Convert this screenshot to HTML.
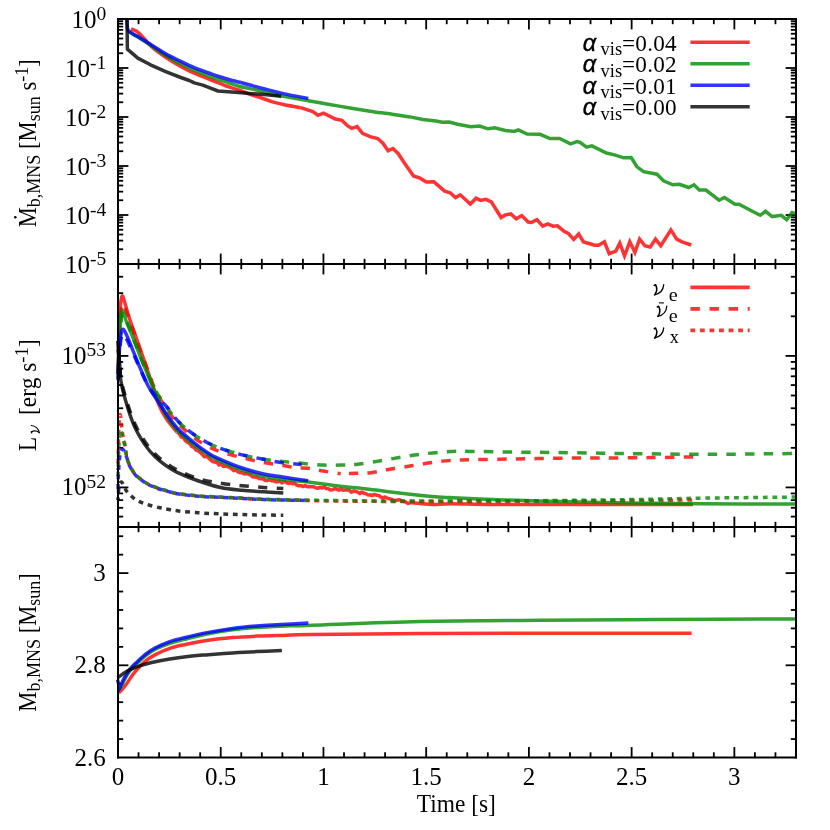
<!DOCTYPE html>
<html lang="en"><head><meta charset="utf-8"><title>MNS evolution</title>
<style>
html,body{margin:0;padding:0;background:#fff;}
body{width:830px;height:830px;overflow:hidden;}
svg{display:block;}
</style></head><body>
<svg width="830" height="830" viewBox="0 0 830 830" font-family="Liberation Serif, serif" font-size="25.0" fill="#000">
<rect x="0" y="0" width="830" height="830" fill="#fff"/>
<defs>
<clipPath id="c1"><rect x="115.8" y="19.0" width="681.2" height="245.0"/></clipPath>
<clipPath id="c2"><rect x="115.8" y="264.0" width="681.2" height="263.0"/></clipPath>
<clipPath id="c3"><rect x="115.8" y="527.0" width="681.2" height="230.5"/></clipPath>
</defs>
<g>
<line x1="138.55" y1="19.00" x2="138.55" y2="24.20" stroke="#000" stroke-width="1.8"/>
<line x1="138.55" y1="258.80" x2="138.55" y2="269.20" stroke="#000" stroke-width="1.8"/>
<line x1="138.55" y1="521.80" x2="138.55" y2="532.20" stroke="#000" stroke-width="1.8"/>
<line x1="138.55" y1="752.30" x2="138.55" y2="757.50" stroke="#000" stroke-width="1.8"/>
<line x1="159.09" y1="19.00" x2="159.09" y2="24.20" stroke="#000" stroke-width="1.8"/>
<line x1="159.09" y1="258.80" x2="159.09" y2="269.20" stroke="#000" stroke-width="1.8"/>
<line x1="159.09" y1="521.80" x2="159.09" y2="532.20" stroke="#000" stroke-width="1.8"/>
<line x1="159.09" y1="752.30" x2="159.09" y2="757.50" stroke="#000" stroke-width="1.8"/>
<line x1="179.64" y1="19.00" x2="179.64" y2="24.20" stroke="#000" stroke-width="1.8"/>
<line x1="179.64" y1="258.80" x2="179.64" y2="269.20" stroke="#000" stroke-width="1.8"/>
<line x1="179.64" y1="521.80" x2="179.64" y2="532.20" stroke="#000" stroke-width="1.8"/>
<line x1="179.64" y1="752.30" x2="179.64" y2="757.50" stroke="#000" stroke-width="1.8"/>
<line x1="200.18" y1="19.00" x2="200.18" y2="24.20" stroke="#000" stroke-width="1.8"/>
<line x1="200.18" y1="258.80" x2="200.18" y2="269.20" stroke="#000" stroke-width="1.8"/>
<line x1="200.18" y1="521.80" x2="200.18" y2="532.20" stroke="#000" stroke-width="1.8"/>
<line x1="200.18" y1="752.30" x2="200.18" y2="757.50" stroke="#000" stroke-width="1.8"/>
<line x1="220.73" y1="19.00" x2="220.73" y2="29.40" stroke="#000" stroke-width="1.8"/>
<line x1="220.73" y1="253.60" x2="220.73" y2="274.40" stroke="#000" stroke-width="1.8"/>
<line x1="220.73" y1="516.60" x2="220.73" y2="537.40" stroke="#000" stroke-width="1.8"/>
<line x1="220.73" y1="747.10" x2="220.73" y2="757.50" stroke="#000" stroke-width="1.8"/>
<line x1="241.27" y1="19.00" x2="241.27" y2="24.20" stroke="#000" stroke-width="1.8"/>
<line x1="241.27" y1="258.80" x2="241.27" y2="269.20" stroke="#000" stroke-width="1.8"/>
<line x1="241.27" y1="521.80" x2="241.27" y2="532.20" stroke="#000" stroke-width="1.8"/>
<line x1="241.27" y1="752.30" x2="241.27" y2="757.50" stroke="#000" stroke-width="1.8"/>
<line x1="261.82" y1="19.00" x2="261.82" y2="24.20" stroke="#000" stroke-width="1.8"/>
<line x1="261.82" y1="258.80" x2="261.82" y2="269.20" stroke="#000" stroke-width="1.8"/>
<line x1="261.82" y1="521.80" x2="261.82" y2="532.20" stroke="#000" stroke-width="1.8"/>
<line x1="261.82" y1="752.30" x2="261.82" y2="757.50" stroke="#000" stroke-width="1.8"/>
<line x1="282.36" y1="19.00" x2="282.36" y2="24.20" stroke="#000" stroke-width="1.8"/>
<line x1="282.36" y1="258.80" x2="282.36" y2="269.20" stroke="#000" stroke-width="1.8"/>
<line x1="282.36" y1="521.80" x2="282.36" y2="532.20" stroke="#000" stroke-width="1.8"/>
<line x1="282.36" y1="752.30" x2="282.36" y2="757.50" stroke="#000" stroke-width="1.8"/>
<line x1="302.91" y1="19.00" x2="302.91" y2="24.20" stroke="#000" stroke-width="1.8"/>
<line x1="302.91" y1="258.80" x2="302.91" y2="269.20" stroke="#000" stroke-width="1.8"/>
<line x1="302.91" y1="521.80" x2="302.91" y2="532.20" stroke="#000" stroke-width="1.8"/>
<line x1="302.91" y1="752.30" x2="302.91" y2="757.50" stroke="#000" stroke-width="1.8"/>
<line x1="323.45" y1="19.00" x2="323.45" y2="29.40" stroke="#000" stroke-width="1.8"/>
<line x1="323.45" y1="253.60" x2="323.45" y2="274.40" stroke="#000" stroke-width="1.8"/>
<line x1="323.45" y1="516.60" x2="323.45" y2="537.40" stroke="#000" stroke-width="1.8"/>
<line x1="323.45" y1="747.10" x2="323.45" y2="757.50" stroke="#000" stroke-width="1.8"/>
<line x1="344.00" y1="19.00" x2="344.00" y2="24.20" stroke="#000" stroke-width="1.8"/>
<line x1="344.00" y1="258.80" x2="344.00" y2="269.20" stroke="#000" stroke-width="1.8"/>
<line x1="344.00" y1="521.80" x2="344.00" y2="532.20" stroke="#000" stroke-width="1.8"/>
<line x1="344.00" y1="752.30" x2="344.00" y2="757.50" stroke="#000" stroke-width="1.8"/>
<line x1="364.55" y1="19.00" x2="364.55" y2="24.20" stroke="#000" stroke-width="1.8"/>
<line x1="364.55" y1="258.80" x2="364.55" y2="269.20" stroke="#000" stroke-width="1.8"/>
<line x1="364.55" y1="521.80" x2="364.55" y2="532.20" stroke="#000" stroke-width="1.8"/>
<line x1="364.55" y1="752.30" x2="364.55" y2="757.50" stroke="#000" stroke-width="1.8"/>
<line x1="385.09" y1="19.00" x2="385.09" y2="24.20" stroke="#000" stroke-width="1.8"/>
<line x1="385.09" y1="258.80" x2="385.09" y2="269.20" stroke="#000" stroke-width="1.8"/>
<line x1="385.09" y1="521.80" x2="385.09" y2="532.20" stroke="#000" stroke-width="1.8"/>
<line x1="385.09" y1="752.30" x2="385.09" y2="757.50" stroke="#000" stroke-width="1.8"/>
<line x1="405.64" y1="19.00" x2="405.64" y2="24.20" stroke="#000" stroke-width="1.8"/>
<line x1="405.64" y1="258.80" x2="405.64" y2="269.20" stroke="#000" stroke-width="1.8"/>
<line x1="405.64" y1="521.80" x2="405.64" y2="532.20" stroke="#000" stroke-width="1.8"/>
<line x1="405.64" y1="752.30" x2="405.64" y2="757.50" stroke="#000" stroke-width="1.8"/>
<line x1="426.18" y1="19.00" x2="426.18" y2="29.40" stroke="#000" stroke-width="1.8"/>
<line x1="426.18" y1="253.60" x2="426.18" y2="274.40" stroke="#000" stroke-width="1.8"/>
<line x1="426.18" y1="516.60" x2="426.18" y2="537.40" stroke="#000" stroke-width="1.8"/>
<line x1="426.18" y1="747.10" x2="426.18" y2="757.50" stroke="#000" stroke-width="1.8"/>
<line x1="446.73" y1="19.00" x2="446.73" y2="24.20" stroke="#000" stroke-width="1.8"/>
<line x1="446.73" y1="258.80" x2="446.73" y2="269.20" stroke="#000" stroke-width="1.8"/>
<line x1="446.73" y1="521.80" x2="446.73" y2="532.20" stroke="#000" stroke-width="1.8"/>
<line x1="446.73" y1="752.30" x2="446.73" y2="757.50" stroke="#000" stroke-width="1.8"/>
<line x1="467.27" y1="19.00" x2="467.27" y2="24.20" stroke="#000" stroke-width="1.8"/>
<line x1="467.27" y1="258.80" x2="467.27" y2="269.20" stroke="#000" stroke-width="1.8"/>
<line x1="467.27" y1="521.80" x2="467.27" y2="532.20" stroke="#000" stroke-width="1.8"/>
<line x1="467.27" y1="752.30" x2="467.27" y2="757.50" stroke="#000" stroke-width="1.8"/>
<line x1="487.82" y1="19.00" x2="487.82" y2="24.20" stroke="#000" stroke-width="1.8"/>
<line x1="487.82" y1="258.80" x2="487.82" y2="269.20" stroke="#000" stroke-width="1.8"/>
<line x1="487.82" y1="521.80" x2="487.82" y2="532.20" stroke="#000" stroke-width="1.8"/>
<line x1="487.82" y1="752.30" x2="487.82" y2="757.50" stroke="#000" stroke-width="1.8"/>
<line x1="508.36" y1="19.00" x2="508.36" y2="24.20" stroke="#000" stroke-width="1.8"/>
<line x1="508.36" y1="258.80" x2="508.36" y2="269.20" stroke="#000" stroke-width="1.8"/>
<line x1="508.36" y1="521.80" x2="508.36" y2="532.20" stroke="#000" stroke-width="1.8"/>
<line x1="508.36" y1="752.30" x2="508.36" y2="757.50" stroke="#000" stroke-width="1.8"/>
<line x1="528.91" y1="19.00" x2="528.91" y2="29.40" stroke="#000" stroke-width="1.8"/>
<line x1="528.91" y1="253.60" x2="528.91" y2="274.40" stroke="#000" stroke-width="1.8"/>
<line x1="528.91" y1="516.60" x2="528.91" y2="537.40" stroke="#000" stroke-width="1.8"/>
<line x1="528.91" y1="747.10" x2="528.91" y2="757.50" stroke="#000" stroke-width="1.8"/>
<line x1="549.45" y1="19.00" x2="549.45" y2="24.20" stroke="#000" stroke-width="1.8"/>
<line x1="549.45" y1="258.80" x2="549.45" y2="269.20" stroke="#000" stroke-width="1.8"/>
<line x1="549.45" y1="521.80" x2="549.45" y2="532.20" stroke="#000" stroke-width="1.8"/>
<line x1="549.45" y1="752.30" x2="549.45" y2="757.50" stroke="#000" stroke-width="1.8"/>
<line x1="570.00" y1="19.00" x2="570.00" y2="24.20" stroke="#000" stroke-width="1.8"/>
<line x1="570.00" y1="258.80" x2="570.00" y2="269.20" stroke="#000" stroke-width="1.8"/>
<line x1="570.00" y1="521.80" x2="570.00" y2="532.20" stroke="#000" stroke-width="1.8"/>
<line x1="570.00" y1="752.30" x2="570.00" y2="757.50" stroke="#000" stroke-width="1.8"/>
<line x1="590.55" y1="19.00" x2="590.55" y2="24.20" stroke="#000" stroke-width="1.8"/>
<line x1="590.55" y1="258.80" x2="590.55" y2="269.20" stroke="#000" stroke-width="1.8"/>
<line x1="590.55" y1="521.80" x2="590.55" y2="532.20" stroke="#000" stroke-width="1.8"/>
<line x1="590.55" y1="752.30" x2="590.55" y2="757.50" stroke="#000" stroke-width="1.8"/>
<line x1="611.09" y1="19.00" x2="611.09" y2="24.20" stroke="#000" stroke-width="1.8"/>
<line x1="611.09" y1="258.80" x2="611.09" y2="269.20" stroke="#000" stroke-width="1.8"/>
<line x1="611.09" y1="521.80" x2="611.09" y2="532.20" stroke="#000" stroke-width="1.8"/>
<line x1="611.09" y1="752.30" x2="611.09" y2="757.50" stroke="#000" stroke-width="1.8"/>
<line x1="631.64" y1="19.00" x2="631.64" y2="29.40" stroke="#000" stroke-width="1.8"/>
<line x1="631.64" y1="253.60" x2="631.64" y2="274.40" stroke="#000" stroke-width="1.8"/>
<line x1="631.64" y1="516.60" x2="631.64" y2="537.40" stroke="#000" stroke-width="1.8"/>
<line x1="631.64" y1="747.10" x2="631.64" y2="757.50" stroke="#000" stroke-width="1.8"/>
<line x1="652.18" y1="19.00" x2="652.18" y2="24.20" stroke="#000" stroke-width="1.8"/>
<line x1="652.18" y1="258.80" x2="652.18" y2="269.20" stroke="#000" stroke-width="1.8"/>
<line x1="652.18" y1="521.80" x2="652.18" y2="532.20" stroke="#000" stroke-width="1.8"/>
<line x1="652.18" y1="752.30" x2="652.18" y2="757.50" stroke="#000" stroke-width="1.8"/>
<line x1="672.73" y1="19.00" x2="672.73" y2="24.20" stroke="#000" stroke-width="1.8"/>
<line x1="672.73" y1="258.80" x2="672.73" y2="269.20" stroke="#000" stroke-width="1.8"/>
<line x1="672.73" y1="521.80" x2="672.73" y2="532.20" stroke="#000" stroke-width="1.8"/>
<line x1="672.73" y1="752.30" x2="672.73" y2="757.50" stroke="#000" stroke-width="1.8"/>
<line x1="693.27" y1="19.00" x2="693.27" y2="24.20" stroke="#000" stroke-width="1.8"/>
<line x1="693.27" y1="258.80" x2="693.27" y2="269.20" stroke="#000" stroke-width="1.8"/>
<line x1="693.27" y1="521.80" x2="693.27" y2="532.20" stroke="#000" stroke-width="1.8"/>
<line x1="693.27" y1="752.30" x2="693.27" y2="757.50" stroke="#000" stroke-width="1.8"/>
<line x1="713.82" y1="19.00" x2="713.82" y2="24.20" stroke="#000" stroke-width="1.8"/>
<line x1="713.82" y1="258.80" x2="713.82" y2="269.20" stroke="#000" stroke-width="1.8"/>
<line x1="713.82" y1="521.80" x2="713.82" y2="532.20" stroke="#000" stroke-width="1.8"/>
<line x1="713.82" y1="752.30" x2="713.82" y2="757.50" stroke="#000" stroke-width="1.8"/>
<line x1="734.36" y1="19.00" x2="734.36" y2="29.40" stroke="#000" stroke-width="1.8"/>
<line x1="734.36" y1="253.60" x2="734.36" y2="274.40" stroke="#000" stroke-width="1.8"/>
<line x1="734.36" y1="516.60" x2="734.36" y2="537.40" stroke="#000" stroke-width="1.8"/>
<line x1="734.36" y1="747.10" x2="734.36" y2="757.50" stroke="#000" stroke-width="1.8"/>
<line x1="754.91" y1="19.00" x2="754.91" y2="24.20" stroke="#000" stroke-width="1.8"/>
<line x1="754.91" y1="258.80" x2="754.91" y2="269.20" stroke="#000" stroke-width="1.8"/>
<line x1="754.91" y1="521.80" x2="754.91" y2="532.20" stroke="#000" stroke-width="1.8"/>
<line x1="754.91" y1="752.30" x2="754.91" y2="757.50" stroke="#000" stroke-width="1.8"/>
<line x1="775.45" y1="19.00" x2="775.45" y2="24.20" stroke="#000" stroke-width="1.8"/>
<line x1="775.45" y1="258.80" x2="775.45" y2="269.20" stroke="#000" stroke-width="1.8"/>
<line x1="775.45" y1="521.80" x2="775.45" y2="532.20" stroke="#000" stroke-width="1.8"/>
<line x1="775.45" y1="752.30" x2="775.45" y2="757.50" stroke="#000" stroke-width="1.8"/>
<line x1="118.00" y1="53.25" x2="123.20" y2="53.25" stroke="#000" stroke-width="1.8"/>
<line x1="790.80" y1="53.25" x2="796.00" y2="53.25" stroke="#000" stroke-width="1.8"/>
<line x1="118.00" y1="44.62" x2="123.20" y2="44.62" stroke="#000" stroke-width="1.8"/>
<line x1="790.80" y1="44.62" x2="796.00" y2="44.62" stroke="#000" stroke-width="1.8"/>
<line x1="118.00" y1="38.50" x2="123.20" y2="38.50" stroke="#000" stroke-width="1.8"/>
<line x1="790.80" y1="38.50" x2="796.00" y2="38.50" stroke="#000" stroke-width="1.8"/>
<line x1="118.00" y1="33.75" x2="123.20" y2="33.75" stroke="#000" stroke-width="1.8"/>
<line x1="790.80" y1="33.75" x2="796.00" y2="33.75" stroke="#000" stroke-width="1.8"/>
<line x1="118.00" y1="29.87" x2="123.20" y2="29.87" stroke="#000" stroke-width="1.8"/>
<line x1="790.80" y1="29.87" x2="796.00" y2="29.87" stroke="#000" stroke-width="1.8"/>
<line x1="118.00" y1="26.59" x2="123.20" y2="26.59" stroke="#000" stroke-width="1.8"/>
<line x1="790.80" y1="26.59" x2="796.00" y2="26.59" stroke="#000" stroke-width="1.8"/>
<line x1="118.00" y1="23.75" x2="123.20" y2="23.75" stroke="#000" stroke-width="1.8"/>
<line x1="790.80" y1="23.75" x2="796.00" y2="23.75" stroke="#000" stroke-width="1.8"/>
<line x1="118.00" y1="21.24" x2="123.20" y2="21.24" stroke="#000" stroke-width="1.8"/>
<line x1="790.80" y1="21.24" x2="796.00" y2="21.24" stroke="#000" stroke-width="1.8"/>
<line x1="118.00" y1="68.00" x2="128.40" y2="68.00" stroke="#000" stroke-width="1.8"/>
<line x1="785.60" y1="68.00" x2="796.00" y2="68.00" stroke="#000" stroke-width="1.8"/>
<line x1="118.00" y1="102.25" x2="123.20" y2="102.25" stroke="#000" stroke-width="1.8"/>
<line x1="790.80" y1="102.25" x2="796.00" y2="102.25" stroke="#000" stroke-width="1.8"/>
<line x1="118.00" y1="93.62" x2="123.20" y2="93.62" stroke="#000" stroke-width="1.8"/>
<line x1="790.80" y1="93.62" x2="796.00" y2="93.62" stroke="#000" stroke-width="1.8"/>
<line x1="118.00" y1="87.50" x2="123.20" y2="87.50" stroke="#000" stroke-width="1.8"/>
<line x1="790.80" y1="87.50" x2="796.00" y2="87.50" stroke="#000" stroke-width="1.8"/>
<line x1="118.00" y1="82.75" x2="123.20" y2="82.75" stroke="#000" stroke-width="1.8"/>
<line x1="790.80" y1="82.75" x2="796.00" y2="82.75" stroke="#000" stroke-width="1.8"/>
<line x1="118.00" y1="78.87" x2="123.20" y2="78.87" stroke="#000" stroke-width="1.8"/>
<line x1="790.80" y1="78.87" x2="796.00" y2="78.87" stroke="#000" stroke-width="1.8"/>
<line x1="118.00" y1="75.59" x2="123.20" y2="75.59" stroke="#000" stroke-width="1.8"/>
<line x1="790.80" y1="75.59" x2="796.00" y2="75.59" stroke="#000" stroke-width="1.8"/>
<line x1="118.00" y1="72.75" x2="123.20" y2="72.75" stroke="#000" stroke-width="1.8"/>
<line x1="790.80" y1="72.75" x2="796.00" y2="72.75" stroke="#000" stroke-width="1.8"/>
<line x1="118.00" y1="70.24" x2="123.20" y2="70.24" stroke="#000" stroke-width="1.8"/>
<line x1="790.80" y1="70.24" x2="796.00" y2="70.24" stroke="#000" stroke-width="1.8"/>
<line x1="118.00" y1="117.00" x2="128.40" y2="117.00" stroke="#000" stroke-width="1.8"/>
<line x1="785.60" y1="117.00" x2="796.00" y2="117.00" stroke="#000" stroke-width="1.8"/>
<line x1="118.00" y1="151.25" x2="123.20" y2="151.25" stroke="#000" stroke-width="1.8"/>
<line x1="790.80" y1="151.25" x2="796.00" y2="151.25" stroke="#000" stroke-width="1.8"/>
<line x1="118.00" y1="142.62" x2="123.20" y2="142.62" stroke="#000" stroke-width="1.8"/>
<line x1="790.80" y1="142.62" x2="796.00" y2="142.62" stroke="#000" stroke-width="1.8"/>
<line x1="118.00" y1="136.50" x2="123.20" y2="136.50" stroke="#000" stroke-width="1.8"/>
<line x1="790.80" y1="136.50" x2="796.00" y2="136.50" stroke="#000" stroke-width="1.8"/>
<line x1="118.00" y1="131.75" x2="123.20" y2="131.75" stroke="#000" stroke-width="1.8"/>
<line x1="790.80" y1="131.75" x2="796.00" y2="131.75" stroke="#000" stroke-width="1.8"/>
<line x1="118.00" y1="127.87" x2="123.20" y2="127.87" stroke="#000" stroke-width="1.8"/>
<line x1="790.80" y1="127.87" x2="796.00" y2="127.87" stroke="#000" stroke-width="1.8"/>
<line x1="118.00" y1="124.59" x2="123.20" y2="124.59" stroke="#000" stroke-width="1.8"/>
<line x1="790.80" y1="124.59" x2="796.00" y2="124.59" stroke="#000" stroke-width="1.8"/>
<line x1="118.00" y1="121.75" x2="123.20" y2="121.75" stroke="#000" stroke-width="1.8"/>
<line x1="790.80" y1="121.75" x2="796.00" y2="121.75" stroke="#000" stroke-width="1.8"/>
<line x1="118.00" y1="119.24" x2="123.20" y2="119.24" stroke="#000" stroke-width="1.8"/>
<line x1="790.80" y1="119.24" x2="796.00" y2="119.24" stroke="#000" stroke-width="1.8"/>
<line x1="118.00" y1="166.00" x2="128.40" y2="166.00" stroke="#000" stroke-width="1.8"/>
<line x1="785.60" y1="166.00" x2="796.00" y2="166.00" stroke="#000" stroke-width="1.8"/>
<line x1="118.00" y1="200.25" x2="123.20" y2="200.25" stroke="#000" stroke-width="1.8"/>
<line x1="790.80" y1="200.25" x2="796.00" y2="200.25" stroke="#000" stroke-width="1.8"/>
<line x1="118.00" y1="191.62" x2="123.20" y2="191.62" stroke="#000" stroke-width="1.8"/>
<line x1="790.80" y1="191.62" x2="796.00" y2="191.62" stroke="#000" stroke-width="1.8"/>
<line x1="118.00" y1="185.50" x2="123.20" y2="185.50" stroke="#000" stroke-width="1.8"/>
<line x1="790.80" y1="185.50" x2="796.00" y2="185.50" stroke="#000" stroke-width="1.8"/>
<line x1="118.00" y1="180.75" x2="123.20" y2="180.75" stroke="#000" stroke-width="1.8"/>
<line x1="790.80" y1="180.75" x2="796.00" y2="180.75" stroke="#000" stroke-width="1.8"/>
<line x1="118.00" y1="176.87" x2="123.20" y2="176.87" stroke="#000" stroke-width="1.8"/>
<line x1="790.80" y1="176.87" x2="796.00" y2="176.87" stroke="#000" stroke-width="1.8"/>
<line x1="118.00" y1="173.59" x2="123.20" y2="173.59" stroke="#000" stroke-width="1.8"/>
<line x1="790.80" y1="173.59" x2="796.00" y2="173.59" stroke="#000" stroke-width="1.8"/>
<line x1="118.00" y1="170.75" x2="123.20" y2="170.75" stroke="#000" stroke-width="1.8"/>
<line x1="790.80" y1="170.75" x2="796.00" y2="170.75" stroke="#000" stroke-width="1.8"/>
<line x1="118.00" y1="168.24" x2="123.20" y2="168.24" stroke="#000" stroke-width="1.8"/>
<line x1="790.80" y1="168.24" x2="796.00" y2="168.24" stroke="#000" stroke-width="1.8"/>
<line x1="118.00" y1="215.00" x2="128.40" y2="215.00" stroke="#000" stroke-width="1.8"/>
<line x1="785.60" y1="215.00" x2="796.00" y2="215.00" stroke="#000" stroke-width="1.8"/>
<line x1="118.00" y1="249.25" x2="123.20" y2="249.25" stroke="#000" stroke-width="1.8"/>
<line x1="790.80" y1="249.25" x2="796.00" y2="249.25" stroke="#000" stroke-width="1.8"/>
<line x1="118.00" y1="240.62" x2="123.20" y2="240.62" stroke="#000" stroke-width="1.8"/>
<line x1="790.80" y1="240.62" x2="796.00" y2="240.62" stroke="#000" stroke-width="1.8"/>
<line x1="118.00" y1="234.50" x2="123.20" y2="234.50" stroke="#000" stroke-width="1.8"/>
<line x1="790.80" y1="234.50" x2="796.00" y2="234.50" stroke="#000" stroke-width="1.8"/>
<line x1="118.00" y1="229.75" x2="123.20" y2="229.75" stroke="#000" stroke-width="1.8"/>
<line x1="790.80" y1="229.75" x2="796.00" y2="229.75" stroke="#000" stroke-width="1.8"/>
<line x1="118.00" y1="225.87" x2="123.20" y2="225.87" stroke="#000" stroke-width="1.8"/>
<line x1="790.80" y1="225.87" x2="796.00" y2="225.87" stroke="#000" stroke-width="1.8"/>
<line x1="118.00" y1="222.59" x2="123.20" y2="222.59" stroke="#000" stroke-width="1.8"/>
<line x1="790.80" y1="222.59" x2="796.00" y2="222.59" stroke="#000" stroke-width="1.8"/>
<line x1="118.00" y1="219.75" x2="123.20" y2="219.75" stroke="#000" stroke-width="1.8"/>
<line x1="790.80" y1="219.75" x2="796.00" y2="219.75" stroke="#000" stroke-width="1.8"/>
<line x1="118.00" y1="217.24" x2="123.20" y2="217.24" stroke="#000" stroke-width="1.8"/>
<line x1="790.80" y1="217.24" x2="796.00" y2="217.24" stroke="#000" stroke-width="1.8"/>
<line x1="118.00" y1="355.91" x2="128.40" y2="355.91" stroke="#000" stroke-width="1.8"/>
<line x1="785.60" y1="355.91" x2="796.00" y2="355.91" stroke="#000" stroke-width="1.8"/>
<line x1="118.00" y1="487.41" x2="128.40" y2="487.41" stroke="#000" stroke-width="1.8"/>
<line x1="785.60" y1="487.41" x2="796.00" y2="487.41" stroke="#000" stroke-width="1.8"/>
<line x1="118.00" y1="316.33" x2="123.20" y2="316.33" stroke="#000" stroke-width="1.8"/>
<line x1="790.80" y1="316.33" x2="796.00" y2="316.33" stroke="#000" stroke-width="1.8"/>
<line x1="118.00" y1="293.17" x2="123.20" y2="293.17" stroke="#000" stroke-width="1.8"/>
<line x1="790.80" y1="293.17" x2="796.00" y2="293.17" stroke="#000" stroke-width="1.8"/>
<line x1="118.00" y1="276.74" x2="123.20" y2="276.74" stroke="#000" stroke-width="1.8"/>
<line x1="790.80" y1="276.74" x2="796.00" y2="276.74" stroke="#000" stroke-width="1.8"/>
<line x1="118.00" y1="447.83" x2="123.20" y2="447.83" stroke="#000" stroke-width="1.8"/>
<line x1="790.80" y1="447.83" x2="796.00" y2="447.83" stroke="#000" stroke-width="1.8"/>
<line x1="118.00" y1="424.67" x2="123.20" y2="424.67" stroke="#000" stroke-width="1.8"/>
<line x1="790.80" y1="424.67" x2="796.00" y2="424.67" stroke="#000" stroke-width="1.8"/>
<line x1="118.00" y1="408.24" x2="123.20" y2="408.24" stroke="#000" stroke-width="1.8"/>
<line x1="790.80" y1="408.24" x2="796.00" y2="408.24" stroke="#000" stroke-width="1.8"/>
<line x1="118.00" y1="395.50" x2="123.20" y2="395.50" stroke="#000" stroke-width="1.8"/>
<line x1="790.80" y1="395.50" x2="796.00" y2="395.50" stroke="#000" stroke-width="1.8"/>
<line x1="118.00" y1="385.09" x2="123.20" y2="385.09" stroke="#000" stroke-width="1.8"/>
<line x1="790.80" y1="385.09" x2="796.00" y2="385.09" stroke="#000" stroke-width="1.8"/>
<line x1="118.00" y1="376.28" x2="123.20" y2="376.28" stroke="#000" stroke-width="1.8"/>
<line x1="790.80" y1="376.28" x2="796.00" y2="376.28" stroke="#000" stroke-width="1.8"/>
<line x1="118.00" y1="368.66" x2="123.20" y2="368.66" stroke="#000" stroke-width="1.8"/>
<line x1="790.80" y1="368.66" x2="796.00" y2="368.66" stroke="#000" stroke-width="1.8"/>
<line x1="118.00" y1="361.93" x2="123.20" y2="361.93" stroke="#000" stroke-width="1.8"/>
<line x1="790.80" y1="361.93" x2="796.00" y2="361.93" stroke="#000" stroke-width="1.8"/>
<line x1="118.00" y1="516.59" x2="123.20" y2="516.59" stroke="#000" stroke-width="1.8"/>
<line x1="790.80" y1="516.59" x2="796.00" y2="516.59" stroke="#000" stroke-width="1.8"/>
<line x1="118.00" y1="507.78" x2="123.20" y2="507.78" stroke="#000" stroke-width="1.8"/>
<line x1="790.80" y1="507.78" x2="796.00" y2="507.78" stroke="#000" stroke-width="1.8"/>
<line x1="118.00" y1="500.16" x2="123.20" y2="500.16" stroke="#000" stroke-width="1.8"/>
<line x1="790.80" y1="500.16" x2="796.00" y2="500.16" stroke="#000" stroke-width="1.8"/>
<line x1="118.00" y1="493.43" x2="123.20" y2="493.43" stroke="#000" stroke-width="1.8"/>
<line x1="790.80" y1="493.43" x2="796.00" y2="493.43" stroke="#000" stroke-width="1.8"/>
<line x1="118.00" y1="739.06" x2="123.20" y2="739.06" stroke="#000" stroke-width="1.8"/>
<line x1="790.80" y1="739.06" x2="796.00" y2="739.06" stroke="#000" stroke-width="1.8"/>
<line x1="118.00" y1="720.62" x2="123.20" y2="720.62" stroke="#000" stroke-width="1.8"/>
<line x1="790.80" y1="720.62" x2="796.00" y2="720.62" stroke="#000" stroke-width="1.8"/>
<line x1="118.00" y1="702.18" x2="123.20" y2="702.18" stroke="#000" stroke-width="1.8"/>
<line x1="790.80" y1="702.18" x2="796.00" y2="702.18" stroke="#000" stroke-width="1.8"/>
<line x1="118.00" y1="683.74" x2="123.20" y2="683.74" stroke="#000" stroke-width="1.8"/>
<line x1="790.80" y1="683.74" x2="796.00" y2="683.74" stroke="#000" stroke-width="1.8"/>
<line x1="118.00" y1="665.30" x2="128.40" y2="665.30" stroke="#000" stroke-width="1.8"/>
<line x1="785.60" y1="665.30" x2="796.00" y2="665.30" stroke="#000" stroke-width="1.8"/>
<line x1="118.00" y1="646.86" x2="123.20" y2="646.86" stroke="#000" stroke-width="1.8"/>
<line x1="790.80" y1="646.86" x2="796.00" y2="646.86" stroke="#000" stroke-width="1.8"/>
<line x1="118.00" y1="628.42" x2="123.20" y2="628.42" stroke="#000" stroke-width="1.8"/>
<line x1="790.80" y1="628.42" x2="796.00" y2="628.42" stroke="#000" stroke-width="1.8"/>
<line x1="118.00" y1="609.98" x2="123.20" y2="609.98" stroke="#000" stroke-width="1.8"/>
<line x1="790.80" y1="609.98" x2="796.00" y2="609.98" stroke="#000" stroke-width="1.8"/>
<line x1="118.00" y1="591.54" x2="123.20" y2="591.54" stroke="#000" stroke-width="1.8"/>
<line x1="790.80" y1="591.54" x2="796.00" y2="591.54" stroke="#000" stroke-width="1.8"/>
<line x1="118.00" y1="573.10" x2="128.40" y2="573.10" stroke="#000" stroke-width="1.8"/>
<line x1="785.60" y1="573.10" x2="796.00" y2="573.10" stroke="#000" stroke-width="1.8"/>
<line x1="118.00" y1="554.66" x2="123.20" y2="554.66" stroke="#000" stroke-width="1.8"/>
<line x1="790.80" y1="554.66" x2="796.00" y2="554.66" stroke="#000" stroke-width="1.8"/>
<line x1="118.00" y1="536.22" x2="123.20" y2="536.22" stroke="#000" stroke-width="1.8"/>
<line x1="790.80" y1="536.22" x2="796.00" y2="536.22" stroke="#000" stroke-width="1.8"/>
</g>
<g clip-path="url(#c1)">
<path d="M131.0,29.0C131.3,29.1 131.7,29.0 133.0,29.6C134.3,30.2 136.7,31.1 138.7,32.8C140.7,34.4 142.8,37.1 145.0,39.5C147.2,41.9 148.8,44.1 152.2,47.1C155.6,50.1 160.9,54.0 165.7,57.2C170.5,60.4 176.0,63.8 180.8,66.5C185.6,69.2 189.2,71.0 194.3,73.2C199.4,75.5 205.6,77.8 211.2,80.0C216.8,82.2 223.2,85.0 228.0,86.7C232.8,88.4 236.2,89.1 240.0,90.4C243.8,91.7 247.2,93.4 250.8,94.7C254.4,96.0 258.1,96.8 261.7,98.0C265.3,99.2 268.9,100.8 272.5,101.9C276.1,103.0 278.7,103.5 283.4,104.5C288.1,105.5 297.8,107.2 300.7,107.7" fill="none" stroke="#ff0000" stroke-opacity="0.80" stroke-width="3.5" stroke-linejoin="round"/>
<path d="M300.7,107.7L312.7,111.6L318.0,115.3L323.5,113.1L335.4,119.0L341.9,120.3L347.4,125.7L351.7,128.3L357.1,126.6L362.5,133.3L370.1,136.6L377.7,138.5L383.1,143.5L388.1,150.7L392.9,148.5L398.3,153.7L403.7,161.9L413.5,176.0L420.0,178.2L426.3,182.0L433.9,181.8L444.7,191.1L450.1,192.8L455.5,197.6L460.3,194.8L470.3,204.1L476.1,198.2L480.5,200.4L485.9,199.3L491.3,201.9L501.1,217.5L505.4,214.9L510.8,213.9L516.3,218.8L521.7,215.6L528.2,222.1L531.4,222.5L536.9,219.7L542.7,226.2L547.7,224.0L553.1,226.2L557.5,225.8L564.0,231.2L568.3,233.4L573.7,239.4L578.7,234.0L583.5,242.0L590.0,243.8L594.6,245.2L598.6,245.2L604.4,241.8L609.2,253.7L615.8,251.1L619.8,243.1L624.5,255.8L629.8,241.8L634.9,252.4L639.6,239.1L644.9,245.8L650.2,247.1L655.5,239.1L660.8,245.8L670.9,229.9L676.7,239.1L682.0,241.8L691.3,245.0" fill="none" stroke="#ff0000" stroke-opacity="0.80" stroke-width="3.5" stroke-linejoin="miter"/>
<path d="M128.6,31.6C129.2,32.0 130.3,32.8 132.0,33.8C133.7,34.8 135.3,35.5 138.7,37.6C142.1,39.7 147.7,43.4 152.2,46.4C156.7,49.4 160.9,52.6 165.7,55.5C170.5,58.4 176.0,61.3 180.8,63.8C185.6,66.2 189.2,68.0 194.3,70.2C199.4,72.4 205.6,74.8 211.2,76.8C216.8,78.8 223.2,80.9 228.0,82.5C232.8,84.1 236.3,85.5 240.0,86.5C243.7,87.5 246.4,87.8 250.0,88.6C253.6,89.4 256.1,90.1 261.7,91.4C267.3,92.7 275.6,94.8 283.4,96.4C291.2,98.0 301.1,99.5 308.3,100.8C315.5,102.1 320.0,102.8 326.7,104.0C333.4,105.2 341.2,106.5 348.4,107.7C355.6,108.9 362.8,110.1 370.0,111.2C377.2,112.3 385.1,113.2 391.8,114.2C398.5,115.2 407.0,116.5 410.0,116.9" fill="none" stroke="#008a00" stroke-opacity="0.80" stroke-width="3.5" stroke-linejoin="round"/>
<path d="M410.0,116.9L423.0,119.5L436.0,121.0L442.5,122.3L449.0,122.1L457.7,124.3L470.7,126.7L479.4,126.0L488.1,128.8L494.6,127.8L505.4,130.4L514.1,131.4L518.4,129.9L527.1,134.0L540.1,134.3L549.9,138.6L559.6,138.4L570.5,143.8L577.0,141.6L580.0,142.4L586.6,147.2L591.9,145.9L606.5,153.0L614.5,154.9L623.7,157.8L631.2,157.5L637.0,166.8L643.6,171.6L656.9,174.2L663.5,180.8L672.8,184.8L679.4,184.3L688.7,187.5L694.0,184.8L699.3,190.1L705.9,190.1L719.1,200.2L724.4,197.5L735.0,204.2L739.0,204.2L752.3,211.3L760.2,215.3L765.5,211.3L772.2,216.6L781.4,215.3L786.7,219.8L792.0,212.6L797.0,214.0" fill="none" stroke="#008a00" stroke-opacity="0.80" stroke-width="3.5" stroke-linejoin="miter"/>
<path d="M126.6,0.0L126.9,19.0L127.3,27.0C127.5,27.7 127.2,29.5 128.8,31.0C130.4,32.5 133.1,33.7 137.0,36.1C140.9,38.5 147.4,42.4 152.2,45.4C157.0,48.4 160.9,51.2 165.7,53.9C170.5,56.6 176.0,59.1 180.8,61.4C185.6,63.7 189.2,65.6 194.3,67.7C199.4,69.8 205.6,71.9 211.2,73.8C216.8,75.7 223.2,77.8 228.0,79.2C232.8,80.6 236.3,81.3 240.0,82.3C243.7,83.3 246.4,84.0 250.0,85.0C253.6,86.0 256.1,86.8 261.7,88.2C267.3,89.6 275.6,91.9 283.4,93.6C291.2,95.3 304.1,97.6 308.3,98.4" fill="none" stroke="#0000ff" stroke-opacity="0.80" stroke-width="3.5" stroke-linejoin="round"/>
<path d="M126.8,0.0L127.0,19.0L127.4,49.2L137.8,58.1L150.5,64.8L165.7,71.6L180.8,77.5L189.3,80.5L194.3,82.9L202.8,85.1L211.2,88.4L218.0,91.0L228.0,91.8L238.2,92.6L250.0,93.5L261.7,94.3L281.2,96.2" fill="none" stroke="#000000" stroke-opacity="0.80" stroke-width="3.5" stroke-linejoin="round"/>
</g>
<g clip-path="url(#c2)">
<path d="M118.0,374.0C118.2,366.7 118.8,341.5 119.2,330.0C119.6,318.5 120.0,310.7 120.5,305.0C121.0,299.3 121.5,296.8 122.1,296.0C122.7,295.2 123.0,297.1 124.0,300.0C125.0,302.9 126.3,308.3 127.9,313.4C129.5,318.5 131.5,324.4 133.7,330.7C135.9,337.0 138.6,344.5 140.9,351.0C143.2,357.5 145.2,363.7 147.3,369.8C149.4,375.9 151.4,382.0 153.3,387.8C155.2,393.6 156.7,399.4 158.8,404.5C161.0,409.6 163.1,413.9 166.2,418.5C169.2,423.1 175.3,429.9 177.1,432.2" fill="none" stroke="#ff0000" stroke-opacity="0.80" stroke-width="3.5" stroke-linejoin="round"/>
<path d="M177.1,432.2L179.2,433.7L181.3,437.0L183.4,437.7L185.5,440.8L187.6,442.4L189.7,443.6L191.8,446.6L193.9,447.3L196.0,450.0L198.1,450.8L200.2,452.4L202.3,454.6L204.4,456.8L206.5,456.4L208.6,457.8L210.7,459.9L212.8,461.8L214.9,462.0L217.0,462.6L219.1,465.0L221.2,463.7L223.3,466.5L225.4,466.0L227.5,466.6L229.6,467.4L231.7,468.7L233.8,470.7L235.9,470.0L238.0,471.8L240.1,472.7L242.2,472.8L244.3,474.0L246.4,473.5L248.5,474.2L250.6,475.2L252.7,477.0L254.8,477.0L256.9,477.3L259.0,478.5L261.1,478.8L263.2,478.9L265.3,480.5L267.4,480.6L269.5,479.8L271.6,480.7L273.7,480.8L275.8,481.8L277.9,481.7L280.0,480.9L282.1,482.9L284.2,481.2L286.3,482.4L288.4,483.6L290.5,482.6L292.6,483.8L294.7,483.2L296.8,485.1L298.9,485.7L301.0,485.6L303.1,486.6L305.2,485.5L307.3,486.7L309.4,486.6L311.5,486.8L313.6,486.7L315.7,487.8L317.8,488.3L319.9,487.4L322.0,488.0L324.1,486.8L326.2,488.6L328.3,488.8L330.4,489.9L332.5,489.7L334.6,488.7L336.7,489.3L338.8,490.2L340.9,489.0L343.0,490.3L345.1,489.9L347.2,490.1L349.3,490.2L351.4,492.2L353.5,490.9L355.6,491.5L357.7,492.1L359.8,493.6L361.9,492.0L364.0,493.2L366.1,493.7L368.2,494.9L370.3,495.0L372.4,495.5L374.5,494.4L376.6,495.2L378.7,495.4L380.8,497.2L382.9,497.9L385.0,496.9L387.1,498.1L389.2,498.8L391.3,499.2L393.4,500.1L395.5,500.5L397.6,500.0L399.7,499.7L401.8,501.0L403.9,501.3L406.0,502.2L408.1,503.5L410.0,502.6" fill="none" stroke="#ff0000" stroke-opacity="0.80" stroke-width="3.5" stroke-linejoin="round"/>
<path d="M410.0,502.6C413.6,502.9 425.1,504.3 431.8,504.5C438.5,504.7 439.7,503.8 450.0,503.8C460.3,503.8 475.3,504.5 493.4,504.6C511.5,504.7 535.6,504.6 558.4,504.6C581.2,504.6 607.6,504.6 630.0,504.6C652.4,504.6 682.5,504.5 693.0,504.5" fill="none" stroke="#ff0000" stroke-opacity="0.80" stroke-width="3.5" stroke-linejoin="round"/>
<path d="M118.0,380.0C118.2,372.5 118.8,346.3 119.3,335.0C119.8,323.7 120.3,317.2 120.8,312.0C121.3,306.8 121.8,305.0 122.3,304.0C122.8,303.0 123.0,304.0 124.0,306.0C125.0,308.0 126.3,311.5 128.0,316.0C129.7,320.5 131.8,326.9 134.0,333.0C136.2,339.1 138.6,346.2 141.0,352.5C143.4,358.8 145.8,364.8 148.2,371.0C150.6,377.2 152.4,383.8 155.4,390.0C158.4,396.2 162.6,403.1 166.2,408.5C169.8,413.9 173.5,418.5 177.1,422.5C180.7,426.5 184.3,429.4 187.9,432.5C191.5,435.6 195.1,438.6 198.7,441.0C202.3,443.4 206.0,445.4 209.6,447.2C213.2,449.0 215.0,450.0 220.4,451.8C225.8,453.6 234.9,456.0 242.1,457.8C249.3,459.6 257.3,461.3 263.8,462.5C270.3,463.7 275.8,464.1 281.0,465.0C286.2,465.9 290.7,467.1 295.2,467.7C299.7,468.2 303.5,467.7 308.2,468.3C312.9,468.9 318.0,470.2 323.4,471.1C328.8,472.0 337.8,473.3 340.7,473.7" fill="none" stroke="#ff0000" stroke-opacity="0.80" stroke-width="3.5" stroke-linejoin="round" stroke-dasharray="9.4,9.25" stroke-dashoffset="11.4"/>
<path d="M340.7,473.7C343.2,473.6 350.8,473.5 355.9,473.3C360.9,473.1 365.6,473.4 371.0,472.7C376.4,472.0 381.9,470.5 388.4,469.4C394.9,468.3 402.8,467.2 410.0,466.1C417.2,465.0 425.1,463.4 431.8,462.5C438.5,461.6 443.4,461.0 450.0,460.5C456.6,460.0 460.9,459.9 471.7,459.7C482.5,459.4 500.6,459.2 515.0,459.0C529.5,458.8 543.9,458.4 558.4,458.2C572.9,458.0 586.5,458.1 601.8,458.0C617.1,457.9 634.7,457.8 650.0,457.6C665.3,457.4 686.4,457.0 693.7,456.9" fill="none" stroke="#ff0000" stroke-opacity="0.80" stroke-width="3.5" stroke-linejoin="round" stroke-dasharray="9.4,9.25" stroke-dashoffset="10.4"/>
<path d="M118.0,470.0C118.1,464.2 118.4,443.7 118.6,435.0C118.8,426.3 119.2,421.4 119.4,418.0C119.7,414.6 119.8,414.5 120.1,414.5C120.3,414.5 120.7,416.1 120.9,418.0C121.2,419.9 121.2,423.0 121.6,426.0C121.9,429.0 122.4,432.6 123.0,436.0C123.6,439.4 124.6,442.9 125.2,446.3C125.8,449.7 125.9,453.3 126.6,456.4C127.3,459.5 128.2,462.1 129.5,465.0C130.8,467.9 132.7,471.3 134.6,473.7C136.5,476.1 138.9,477.8 141.1,479.5C143.3,481.2 144.8,482.4 147.6,483.9C150.4,485.3 154.0,486.9 157.7,488.2C161.4,489.5 166.8,490.9 170.0,491.8C173.2,492.7 172.3,492.9 177.1,493.6C181.9,494.3 191.5,495.5 198.7,496.1C205.9,496.7 213.2,496.8 220.4,497.2C227.6,497.6 234.9,497.9 242.1,498.3C249.3,498.7 255.5,499.1 263.8,499.4C272.1,499.7 282.1,500.0 292.0,500.2C301.9,500.4 310.9,500.6 323.4,500.8C335.8,501.0 352.3,501.2 366.7,501.3C381.1,501.4 394.4,501.5 410.0,501.5C425.6,501.5 438.9,501.5 460.0,501.5C481.1,501.5 508.4,501.4 536.7,501.3C565.0,501.2 603.8,500.8 630.0,500.6C656.2,500.4 683.1,500.1 693.7,500.0" fill="none" stroke="#ff0000" stroke-opacity="0.80" stroke-width="3.5" stroke-linejoin="round" stroke-dasharray="4.8,4.75" stroke-dashoffset="2.7"/>
<path d="M118.0,374.0C118.2,368.3 118.8,349.3 119.3,340.0C119.8,330.7 120.3,322.8 120.8,318.0C121.3,313.2 121.9,311.9 122.4,311.2C122.9,310.4 123.3,311.7 124.0,313.5C124.7,315.3 124.9,317.7 126.5,322.0C128.1,326.3 131.3,333.4 133.7,339.4C136.1,345.4 138.5,352.2 140.9,358.2C143.3,364.2 146.2,370.9 148.1,375.5C150.0,380.1 150.6,381.4 152.5,385.7C154.4,390.0 157.2,396.5 159.5,401.5C161.8,406.5 163.3,410.8 166.2,415.5C169.1,420.2 173.5,425.9 177.1,430.0C180.7,434.1 184.3,436.7 187.9,439.8C191.5,442.9 195.1,445.7 198.7,448.4C202.3,451.1 206.0,453.6 209.6,455.8C213.2,458.0 215.0,459.0 220.4,461.4C225.8,463.8 234.9,467.6 242.1,470.1C249.3,472.6 257.5,474.9 263.8,476.4C270.1,477.9 272.6,478.3 280.0,479.2C287.4,480.1 301.0,481.2 308.2,482.0C315.4,482.8 317.3,483.1 323.4,483.9C329.5,484.7 337.8,485.9 345.0,486.7C352.2,487.5 359.5,488.1 366.7,488.9C373.9,489.7 381.2,490.8 388.4,491.7C395.6,492.6 402.8,493.5 410.0,494.3C417.2,495.1 425.1,495.9 431.8,496.5C438.5,497.1 439.7,497.1 450.0,497.6C460.3,498.1 478.9,499.1 493.4,499.6C507.8,500.2 522.2,500.5 536.7,500.9C551.2,501.3 564.6,501.6 580.1,502.0C595.6,502.4 610.0,502.8 630.0,503.1C650.0,503.4 672.2,503.6 700.0,503.8C727.8,504.0 780.8,504.1 797.0,504.1" fill="none" stroke="#008a00" stroke-opacity="0.80" stroke-width="3.5" stroke-linejoin="round"/>
<path d="M118.0,380.0C118.2,374.2 118.9,354.7 119.4,345.0C119.9,335.3 120.5,327.2 121.0,322.0C121.5,316.8 122.0,314.9 122.6,314.0C123.2,313.1 123.6,314.8 124.5,316.5C125.4,318.2 126.4,320.1 128.0,324.0C129.6,327.9 131.8,334.3 134.0,340.0C136.2,345.7 138.6,352.2 141.0,358.0C143.4,363.8 145.8,369.6 148.2,375.0C150.6,380.4 152.4,385.2 155.4,390.5C158.4,395.8 162.6,401.5 166.2,406.5C169.8,411.5 173.5,416.6 177.1,420.5C180.7,424.4 184.3,427.1 187.9,430.0C191.5,432.9 195.1,435.5 198.7,437.8C202.3,440.1 206.0,442.0 209.6,443.8C213.2,445.6 215.0,446.5 220.4,448.4C225.8,450.2 234.9,453.1 242.1,454.9C249.3,456.7 257.5,458.2 263.8,459.3C270.1,460.4 273.7,460.5 280.0,461.2C286.3,461.9 294.5,462.6 301.7,463.3C308.9,464.0 316.9,464.8 323.4,465.1C329.9,465.4 335.3,465.2 340.7,465.1C346.1,465.0 349.8,465.0 355.9,464.4C362.0,463.8 370.4,462.3 377.6,461.2C384.8,460.1 392.1,458.7 399.3,457.5C406.5,456.3 413.8,455.1 421.0,454.2C428.2,453.3 436.2,452.5 442.7,452.0C449.2,451.5 455.2,451.3 460.0,451.2C464.8,451.1 462.5,451.2 471.7,451.4C480.9,451.5 500.6,451.9 515.0,452.1C529.5,452.3 543.9,452.3 558.4,452.5C572.9,452.7 589.9,453.0 601.8,453.2C613.7,453.4 612.5,453.4 630.0,453.6C647.5,453.8 680.2,454.3 706.7,454.3C733.2,454.3 774.0,453.7 789.0,453.6C804.0,453.5 795.7,453.6 797.0,453.6" fill="none" stroke="#008a00" stroke-opacity="0.80" stroke-width="3.5" stroke-linejoin="round" stroke-dasharray="9.4,9.25" stroke-dashoffset="16.9"/>
<path d="M118.0,480.0C118.1,475.0 118.4,457.8 118.7,450.0C119.0,442.2 119.5,436.3 119.8,433.0C120.1,429.7 120.5,430.4 120.8,430.4C121.1,430.4 121.4,431.7 121.8,433.0C122.2,434.3 122.4,435.6 123.0,438.0C123.6,440.4 124.6,444.4 125.2,447.5C125.8,450.6 125.9,453.6 126.6,456.5C127.3,459.4 128.2,462.3 129.5,465.2C130.8,468.1 132.7,471.3 134.6,473.7C136.5,476.1 138.9,477.7 141.1,479.4C143.3,481.1 144.8,482.4 147.6,483.8C150.4,485.2 154.0,486.8 157.7,488.1C161.4,489.4 166.8,490.7 170.0,491.6C173.2,492.5 172.3,492.7 177.1,493.4C181.9,494.1 191.5,495.3 198.7,495.9C205.9,496.5 213.2,496.6 220.4,497.0C227.6,497.4 234.9,497.7 242.1,498.1C249.3,498.5 255.5,498.9 263.8,499.2C272.1,499.5 282.1,499.6 292.0,499.8C301.9,500.0 310.9,500.2 323.4,500.4C335.8,500.6 352.3,500.8 366.7,500.9C381.1,501.0 396.1,501.1 410.0,501.1C423.9,501.1 428.9,501.0 450.0,500.9C471.1,500.8 506.7,500.9 536.7,500.7C566.7,500.5 601.7,500.0 630.0,499.6C658.3,499.2 678.9,498.5 706.7,498.1C734.5,497.7 782.0,497.2 797.0,497.0" fill="none" stroke="#008a00" stroke-opacity="0.80" stroke-width="3.5" stroke-linejoin="round" stroke-dasharray="4.8,4.75" stroke-dashoffset="5.8"/>
<path d="M118.0,374.0C118.2,370.0 118.9,356.7 119.4,350.0C119.9,343.3 120.4,337.4 121.0,334.0C121.6,330.6 122.2,329.7 122.8,329.3C123.4,328.9 123.9,330.1 124.8,331.5C125.7,332.9 126.4,334.5 127.9,338.0C129.4,341.5 131.5,347.1 133.7,352.4C135.9,357.7 138.5,364.2 140.9,369.8C143.3,375.4 145.7,381.1 148.1,385.7C150.5,390.3 152.4,392.8 155.4,397.5C158.4,402.2 162.6,408.6 166.2,413.7C169.8,418.8 173.5,423.8 177.1,427.8C180.7,431.8 184.3,434.5 187.9,437.6C191.5,440.7 195.1,443.6 198.7,446.3C202.3,449.0 206.0,451.7 209.6,453.9C213.2,456.1 215.0,456.9 220.4,459.3C225.8,461.7 234.9,465.6 242.1,468.0C249.3,470.4 257.5,472.6 263.8,474.0C270.1,475.4 275.3,475.8 280.0,476.5C284.7,477.2 287.3,477.7 292.0,478.4C296.7,479.1 305.5,480.3 308.2,480.7" fill="none" stroke="#0000ff" stroke-opacity="0.80" stroke-width="3.5" stroke-linejoin="round"/>
<path d="M118.0,380.0C118.2,375.3 119.0,359.0 119.5,352.0C120.0,345.0 120.6,341.0 121.2,338.0C121.8,335.0 122.4,334.3 123.0,334.0C123.6,333.7 124.2,334.7 125.0,336.0C125.8,337.3 126.5,338.8 128.0,342.0C129.5,345.2 131.8,350.2 134.0,355.0C136.2,359.8 138.6,365.8 141.0,371.0C143.4,376.2 145.8,381.8 148.2,386.0C150.6,390.2 152.4,392.6 155.4,396.0C158.4,399.4 162.6,402.1 166.2,406.1C169.8,410.1 173.5,416.2 177.1,420.2C180.7,424.2 184.3,427.1 187.9,430.0C191.5,432.9 195.1,435.3 198.7,437.6C202.3,439.9 206.0,442.0 209.6,443.8C213.2,445.6 215.0,446.5 220.4,448.4C225.8,450.2 234.9,453.1 242.1,454.9C249.3,456.7 257.3,458.0 263.8,459.3C270.3,460.6 274.9,461.6 281.2,462.5C287.5,463.4 298.3,464.2 301.7,464.5" fill="none" stroke="#0000ff" stroke-opacity="0.80" stroke-width="3.5" stroke-linejoin="round" stroke-dasharray="9.4,9.25" stroke-dashoffset="3.5"/>
<path d="M118.0,493.0C118.1,490.0 118.1,480.8 118.4,475.0C118.7,469.2 119.1,462.1 119.6,458.0C120.1,453.9 120.9,451.9 121.5,450.5C122.1,449.1 122.5,449.2 123.0,449.5C123.5,449.8 123.9,450.8 124.5,452.0C125.1,453.2 125.8,454.8 126.6,457.0C127.4,459.2 128.2,462.7 129.5,465.5C130.8,468.3 132.7,471.6 134.6,474.0C136.5,476.4 138.9,478.1 141.1,479.8C143.3,481.5 144.8,482.8 147.6,484.2C150.4,485.6 154.0,487.2 157.7,488.5C161.4,489.8 166.8,491.1 170.0,492.0C173.2,492.9 172.3,493.1 177.1,493.8C181.9,494.5 191.5,495.7 198.7,496.3C205.9,496.9 213.2,497.0 220.4,497.4C227.6,497.8 234.9,498.1 242.1,498.5C249.3,498.9 255.5,499.3 263.8,499.6C272.1,499.9 284.6,500.1 292.0,500.2C299.4,500.3 305.5,500.4 308.2,500.5" fill="none" stroke="#0000ff" stroke-opacity="0.80" stroke-width="3.5" stroke-linejoin="round" stroke-dasharray="4.8,4.75" stroke-dashoffset="5.5"/>
<path d="M117.8,341.0C117.9,342.8 118.2,347.5 118.6,352.0C119.0,356.5 119.7,363.5 120.0,368.2C120.3,372.9 119.9,374.9 120.7,380.0C121.5,385.1 122.8,391.2 125.0,398.6C127.2,406.0 130.4,417.0 133.7,424.6C136.9,432.2 140.9,438.7 144.5,444.1C148.1,449.5 151.8,453.5 155.4,457.1C159.0,460.7 162.6,463.3 166.2,465.8C169.8,468.3 171.7,469.8 177.1,472.3C182.5,474.8 191.5,478.5 198.7,481.0C205.9,483.5 213.2,485.9 220.4,487.5C227.6,489.1 234.9,489.6 242.1,490.3C249.3,491.0 256.9,491.4 263.8,491.8C270.7,492.2 280.1,492.7 283.3,492.9" fill="none" stroke="#000000" stroke-opacity="0.80" stroke-width="3.5" stroke-linejoin="round"/>
<path d="M117.8,345.0C117.9,346.5 118.2,350.2 118.6,354.0C119.0,357.8 119.6,364.0 120.0,368.0C120.4,372.0 119.9,373.3 120.8,378.0C121.7,382.7 123.0,388.7 125.2,396.0C127.4,403.3 130.7,414.4 134.0,422.0C137.3,429.6 141.2,436.1 144.8,441.5C148.4,446.9 152.0,450.9 155.6,454.5C159.2,458.1 162.8,460.7 166.4,463.3C170.0,465.9 171.9,467.4 177.3,470.0C182.7,472.6 191.5,476.6 198.7,478.8C205.9,481.0 213.2,482.0 220.4,483.1C227.6,484.2 234.9,485.0 242.1,485.7C249.3,486.4 256.9,487.0 263.8,487.5C270.7,488.0 280.1,488.4 283.3,488.6" fill="none" stroke="#000000" stroke-opacity="0.80" stroke-width="3.5" stroke-linejoin="round" stroke-dasharray="9.4,9.25" stroke-dashoffset="14.2"/>
<path d="M118.0,500.0C118.1,498.2 118.4,491.8 118.7,489.0C119.0,486.2 119.5,484.5 120.0,483.3C120.5,482.1 121.0,481.7 121.6,482.0C122.2,482.3 122.7,483.5 123.5,485.0C124.3,486.5 124.9,488.9 126.6,491.1C128.3,493.3 131.4,496.4 133.9,498.3C136.4,500.2 139.0,501.4 141.8,502.6C144.6,503.8 147.5,504.6 150.5,505.5C153.5,506.4 157.0,507.1 159.9,507.7C162.8,508.3 164.9,508.7 167.8,509.2C170.7,509.7 171.9,510.2 177.1,510.8C182.2,511.4 191.5,512.3 198.7,512.8C205.9,513.3 213.2,513.6 220.4,513.9C227.6,514.2 234.9,514.4 242.1,514.6C249.3,514.8 256.9,514.9 263.8,515.0C270.7,515.1 280.1,515.2 283.3,515.2" fill="none" stroke="#000000" stroke-opacity="0.80" stroke-width="3.5" stroke-linejoin="round" stroke-dasharray="4.8,4.75" stroke-dashoffset="2.2"/>
</g>
<g clip-path="url(#c3)">
<path d="M118.7,692.7C119.2,692.2 120.7,691.0 122.0,689.5C123.3,688.0 125.0,686.0 126.5,684.0C128.0,682.0 129.4,679.5 131.0,677.3C132.6,675.0 133.7,673.2 136.1,670.5C138.5,667.8 142.5,663.4 145.7,660.8C148.9,658.1 151.4,656.7 155.4,654.6C159.4,652.5 165.0,649.9 169.8,648.3C174.6,646.6 177.9,646.0 184.3,644.7C190.7,643.4 200.4,641.5 208.4,640.3C216.4,639.1 224.5,638.3 232.5,637.6C240.5,636.9 248.6,636.5 256.6,636.1C264.6,635.7 271.5,635.6 280.7,635.4C289.9,635.1 288.8,634.9 312.0,634.6C335.2,634.3 380.3,633.7 420.0,633.5C459.7,633.3 504.7,633.3 550.0,633.3C595.3,633.3 668.0,633.3 691.6,633.3" fill="none" stroke="#ff0000" stroke-opacity="0.80" stroke-width="3.5" stroke-linejoin="round"/>
<path d="M118.5,690.0C118.8,689.6 119.2,689.8 120.5,687.5C121.8,685.2 124.8,679.0 126.5,676.0C128.2,673.0 129.4,671.5 131.0,669.5C132.6,667.5 133.7,666.6 136.1,664.3C138.5,662.0 142.5,658.1 145.7,655.6C148.9,653.1 151.4,651.3 155.4,649.3C159.4,647.2 165.0,644.9 169.8,643.3C174.6,641.6 177.9,641.0 184.3,639.4C190.7,637.8 200.4,635.3 208.4,633.7C216.4,632.1 224.5,630.8 232.5,629.8C240.5,628.8 248.6,628.1 256.6,627.5C264.6,626.9 271.5,626.6 280.7,626.2C289.9,625.8 288.8,626.0 312.0,625.2C335.2,624.4 381.8,622.2 420.0,621.4C458.2,620.6 501.0,620.5 541.0,620.2C581.0,619.9 617.3,619.7 660.0,619.5C702.7,619.3 774.2,619.1 797.0,619.0" fill="none" stroke="#008a00" stroke-opacity="0.80" stroke-width="3.5" stroke-linejoin="round"/>
<path d="M117.5,679.6L119.7,687.8C120.2,686.8 121.4,683.8 122.5,681.5C123.6,679.2 125.1,676.5 126.5,674.3C127.9,672.0 129.4,669.9 131.0,668.0C132.6,666.1 133.7,665.1 136.1,662.8C138.5,660.5 142.5,656.6 145.7,654.1C148.9,651.6 151.4,649.9 155.4,647.8C159.4,645.7 165.0,643.3 169.8,641.6C174.6,639.9 177.9,639.2 184.3,637.7C190.7,636.2 200.4,634.0 208.4,632.4C216.4,630.8 224.5,629.5 232.5,628.4C240.5,627.3 248.6,626.6 256.6,626.0C264.6,625.4 272.1,625.1 280.7,624.6C289.3,624.1 303.8,623.4 308.4,623.1" fill="none" stroke="#0000ff" stroke-opacity="0.80" stroke-width="3.5" stroke-linejoin="miter"/>
<path d="M117.5,677.8C119.0,676.7 123.4,673.2 126.5,671.4C129.6,669.6 132.1,668.5 136.1,667.1C140.1,665.7 145.0,664.2 150.6,662.8C156.2,661.4 162.9,660.0 169.8,658.9C176.7,657.8 185.6,656.7 192.0,656.0C198.4,655.3 201.7,655.2 208.4,654.7C215.2,654.2 224.5,653.5 232.5,653.0C240.5,652.5 248.4,652.0 256.6,651.6C264.8,651.2 277.7,650.8 281.9,650.6" fill="none" stroke="#000000" stroke-opacity="0.80" stroke-width="3.5" stroke-linejoin="round"/>
</g>
<g>
<line x1="118.00" y1="18.00" x2="118.00" y2="758.50" stroke="#000" stroke-width="2.0"/>
<line x1="796.00" y1="18.00" x2="796.00" y2="758.50" stroke="#000" stroke-width="2.0"/>
<line x1="117.00" y1="19.00" x2="797.00" y2="19.00" stroke="#000" stroke-width="2.0"/>
<line x1="117.00" y1="264.00" x2="797.00" y2="264.00" stroke="#000" stroke-width="2.0"/>
<line x1="117.00" y1="527.00" x2="797.00" y2="527.00" stroke="#000" stroke-width="2.0"/>
<line x1="117.00" y1="757.50" x2="797.00" y2="757.50" stroke="#000" stroke-width="2.0"/>
</g>
<g opacity="0.999">
<text transform="translate(106.30,27.80)" text-anchor="end" >10<tspan font-size="19.5" dy="-7.8">0</tspan></text>
<text transform="translate(106.30,76.80)" text-anchor="end" >10<tspan font-size="19.5" dy="-7.8">-1</tspan></text>
<text transform="translate(106.30,125.80)" text-anchor="end" >10<tspan font-size="19.5" dy="-7.8">-2</tspan></text>
<text transform="translate(106.30,174.80)" text-anchor="end" >10<tspan font-size="19.5" dy="-7.8">-3</tspan></text>
<text transform="translate(106.30,223.80)" text-anchor="end" >10<tspan font-size="19.5" dy="-7.8">-4</tspan></text>
<text transform="translate(106.30,272.80)" text-anchor="end" >10<tspan font-size="19.5" dy="-7.8">-5</tspan></text>
<text transform="translate(106.00,363.81)" text-anchor="end" >10<tspan font-size="19.5" dy="-7.8">53</tspan></text>
<text transform="translate(106.00,495.31)" text-anchor="end" >10<tspan font-size="19.5" dy="-7.8">52</tspan></text>
<text transform="translate(105.80,580.90)" text-anchor="end" >3</text>
<text transform="translate(105.80,673.10)" text-anchor="end" >2.8</text>
<text transform="translate(105.80,766.10)" text-anchor="end" >2.6</text>
<text transform="translate(118.00,784.60)" text-anchor="middle" >0</text>
<text transform="translate(220.73,784.60)" text-anchor="middle" >0.5</text>
<text transform="translate(323.45,784.60)" text-anchor="middle" >1</text>
<text transform="translate(426.18,784.60)" text-anchor="middle" >1.5</text>
<text transform="translate(528.91,784.60)" text-anchor="middle" >2</text>
<text transform="translate(631.64,784.60)" text-anchor="middle" >2.5</text>
<text transform="translate(734.36,784.60)" text-anchor="middle" >3</text>
<text transform="translate(456.30,811.80) scale(0.955,1)" text-anchor="middle" font-size="24.5" >Time [s]</text>
<text transform="translate(35.80,143.30) rotate(-90) scale(0.925,1)" text-anchor="middle" font-size="24.5" >M<tspan font-size="19.5" dy="4.4">b,MNS</tspan><tspan dy="-4.4"> [M</tspan><tspan font-size="19.5" dy="4.4">sun</tspan><tspan dy="-4.4"> s</tspan><tspan font-size="19.5" dy="-7.8">-1</tspan><tspan dy="7.8">]</tspan></text>
<circle cx="15.3" cy="217.3" r="1.3" fill="#000"/>
<text transform="translate(36.20,451.20) rotate(-90) scale(0.957,1)" text-anchor="start" font-size="24.5" >L<tspan dx="16.8"> [erg s</tspan><tspan font-size="19.5" dy="-7.8">-1</tspan><tspan dy="7.8">]</tspan></text>
<g transform="translate(39.5,433.5) rotate(-90) scale(0.8)" fill="none" stroke="#000" stroke-linecap="round" stroke-linejoin="round"><path d="M0.6,-9.6L2.0,-10.3C3.7,-7 3.5,-3.5 1.3,-0.4" stroke-width="1.6"/><path d="M0.9,-0.2C5.9,-1.3 9.7,-5 10.1,-10.4" stroke-width="1.35"/></g>
<text transform="translate(35.80,642.40) rotate(-90) scale(0.925,1)" text-anchor="middle" font-size="24.5" >M<tspan font-size="19.5" dy="4.4">b,MNS</tspan><tspan dy="-4.4"> [M</tspan><tspan font-size="19.5" dy="4.4">sun</tspan><tspan dy="-4.4">]</tspan></text>
</g>
<g opacity="0.999">
<text transform="translate(582.8,50.9)" font-family="Liberation Sans, sans-serif" font-style="italic" font-size="23.6" stroke="#000" stroke-width="0.4">&#945;</text>
<text transform="translate(600.6,55.3)" font-size="18.5">vis</text>
<text transform="translate(622.0,50.9)" font-size="23.2" letter-spacing="0.25">=0.04</text>
<line x1="690.4" y1="42.3" x2="749.7" y2="42.3" stroke="#ff0000" stroke-opacity="0.80" stroke-width="3.5"/>
<text transform="translate(582.8,72.3)" font-family="Liberation Sans, sans-serif" font-style="italic" font-size="23.6" stroke="#000" stroke-width="0.4">&#945;</text>
<text transform="translate(600.6,76.8)" font-size="18.5">vis</text>
<text transform="translate(622.0,72.3)" font-size="23.2" letter-spacing="0.25">=0.02</text>
<line x1="690.4" y1="63.7" x2="749.7" y2="63.7" stroke="#008a00" stroke-opacity="0.80" stroke-width="3.5"/>
<text transform="translate(582.8,93.8)" font-family="Liberation Sans, sans-serif" font-style="italic" font-size="23.6" stroke="#000" stroke-width="0.4">&#945;</text>
<text transform="translate(600.6,98.2)" font-size="18.5">vis</text>
<text transform="translate(622.0,93.8)" font-size="23.2" letter-spacing="0.25">=0.01</text>
<line x1="690.4" y1="85.2" x2="749.7" y2="85.2" stroke="#0000ff" stroke-opacity="0.80" stroke-width="3.5"/>
<text transform="translate(582.8,115.2)" font-family="Liberation Sans, sans-serif" font-style="italic" font-size="23.6" stroke="#000" stroke-width="0.4">&#945;</text>
<text transform="translate(600.6,119.7)" font-size="18.5">vis</text>
<text transform="translate(622.0,115.2)" font-size="23.2" letter-spacing="0.25">=0.00</text>
<line x1="690.4" y1="106.7" x2="749.7" y2="106.7" stroke="#000000" stroke-opacity="0.80" stroke-width="3.5"/>
<g transform="translate(653.6,295.0)" fill="none" stroke="#000" stroke-linecap="round" stroke-linejoin="round"><path d="M0.6,-9.6L2.0,-10.3C3.7,-7 3.5,-3.5 1.3,-0.4" stroke-width="1.55"/><path d="M0.9,-0.2C5.9,-1.3 9.7,-5 10.1,-10.4" stroke-width="1.3"/></g>
<text transform="translate(668.7,300.8) scale(1.12,1)" font-size="18">e</text>
<line x1="690.4" y1="287.4" x2="749.7" y2="287.4" stroke="#ff0000" stroke-opacity="0.80" stroke-width="3.7"/>
<g transform="translate(656.7,316.6)" fill="none" stroke="#000" stroke-linecap="round" stroke-linejoin="round"><path d="M0.6,-9.6L2.0,-10.3C3.7,-7 3.5,-3.5 1.3,-0.4" stroke-width="1.55"/><path d="M0.9,-0.2C5.9,-1.3 9.7,-5 10.1,-10.4" stroke-width="1.3"/></g>
<text transform="translate(668.7,321.6) scale(1.12,1)" font-size="18">e</text>
<line x1="690.4" y1="308.9" x2="749.7" y2="308.9" stroke="#ff0000" stroke-opacity="0.80" stroke-width="3.7" stroke-dasharray="9.5,9.6"/>
<g transform="translate(653.6,338.3)" fill="none" stroke="#000" stroke-linecap="round" stroke-linejoin="round"><path d="M0.6,-9.6L2.0,-10.3C3.7,-7 3.5,-3.5 1.3,-0.4" stroke-width="1.55"/><path d="M0.9,-0.2C5.9,-1.3 9.7,-5 10.1,-10.4" stroke-width="1.3"/></g>
<text transform="translate(669.7,343.0) scale(1.02,1)" font-size="17.8">x</text>
<line x1="690.4" y1="330.4" x2="749.7" y2="330.4" stroke="#ff0000" stroke-opacity="0.80" stroke-width="3.7" stroke-dasharray="4.8,4.75"/>
<line x1="659.0" y1="302.9" x2="663.9" y2="302.9" stroke="#000" stroke-width="1.1"/>
</g>
</svg>
</body></html>
